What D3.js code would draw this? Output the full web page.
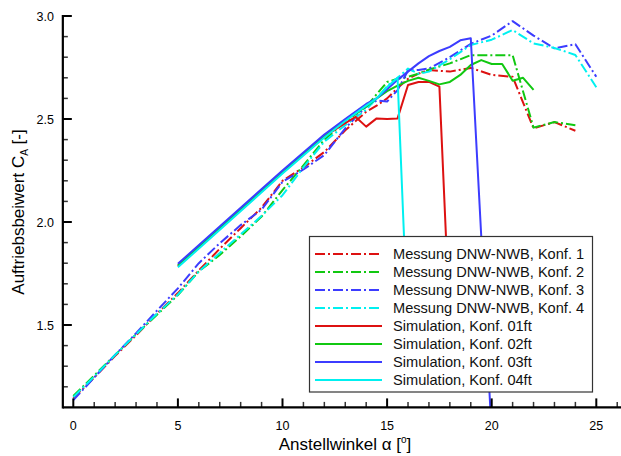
<!DOCTYPE html>
<html><head><meta charset="utf-8">
<script src="https://cdn.jsdelivr.net/npm/d3@7"></script>
<style>body{margin:0;background:#fff}svg{display:block}text{font-family:"Liberation Sans",Arial,sans-serif}</style>
</head><body>
<svg id="c" width="621" height="456"></svg>
<script>
// Measured (Messung DNW-NWB) angles and values
const alphaMeas = [0,1,2,3,4,5,6,7,8,9,10,11,12,13,14,14.5,15,15.5,16,16.5,17,18,19,20,21,22,23,24,25];
const mess1 = [1.145,1.245,1.35,1.45,1.555,1.655,1.765,1.87,1.97,2.07,2.20,2.265,2.34,2.445,2.535,2.565,2.60,2.65,2.695,2.72,2.738,2.73,2.748,2.714,2.705,2.455,2.485,2.443,null];
const mess2 = [1.155,1.255,1.355,1.455,1.55,1.645,1.76,1.84,1.93,2.026,2.155,2.275,2.40,2.487,2.56,2.62,2.68,2.695,2.705,2.72,2.74,2.77,2.81,2.81,2.81,2.458,2.485,2.47,null];
const mess3 = [1.135,1.245,1.355,1.46,1.57,1.678,1.80,1.897,1.985,2.06,2.195,2.255,2.325,2.455,2.56,2.59,2.585,2.64,2.735,2.738,2.745,2.80,2.865,2.905,2.975,2.905,2.843,2.863,2.705];
const mess4 = [1.15,1.25,1.355,1.455,1.555,1.648,1.76,1.85,1.94,2.03,2.13,2.265,2.39,2.47,2.545,2.60,2.66,2.70,2.745,2.72,2.73,2.79,2.859,2.885,2.932,2.867,2.845,2.811,2.654];

// Simulation series
const alphaSim1 = [5,10,12,13,13.5,14,14.5,15,15.5,16,16.5,17,17.5,18];
const sim1 = [1.785,2.24,2.415,2.48,2.51,2.463,2.503,2.50,2.503,2.665,2.68,2.68,2.657,1.5];
const alphaSim2 = [5,10,12,13,14,14.5,15,15.5,16,16.5,17,17.5,18,18.5,19,19.5,20,20.5,21,21.5,22];
const sim2 = [1.79,2.24,2.42,2.495,2.56,2.60,2.635,2.662,2.685,2.70,2.685,2.668,2.68,2.714,2.762,2.786,2.767,2.767,2.686,2.70,2.641];
const alphaSim3 = [5,10,12,13,14,14.5,15,15.5,16,16.5,17,17.5,18,18.5,19,20];
const sim3 = [1.797,2.25,2.425,2.50,2.573,2.60,2.645,2.69,2.73,2.77,2.805,2.83,2.85,2.882,2.892,0.97];
const alphaSim4 = [5,10,12,13,14,14.5,15,15.5,16];
const sim4 = [1.78,2.235,2.41,2.49,2.565,2.60,2.655,2.70,1.45];

const xTicksMajor = [0,5,10,15,20,25];
const yTicksMajor = [1.5,2.0,2.5,3.0];
const legendLabels = ["Messung DNW-NWB, Konf. 1","Messung DNW-NWB, Konf. 2","Messung DNW-NWB, Konf. 3","Messung DNW-NWB, Konf. 4",
  "Simulation, Konf. 01ft","Simulation, Konf. 02ft","Simulation, Konf. 03ft","Simulation, Konf. 04ft"];

const colors = ["#dd1111","#11c811","#3c3cff","#00f0f0"];
const series = [
  {x:alphaMeas,y:mess1,c:colors[0],dash:true},
  {x:alphaMeas,y:mess2,c:colors[1],dash:true},
  {x:alphaMeas,y:mess3,c:colors[2],dash:true},
  {x:alphaMeas,y:mess4,c:colors[3],dash:true},
  {x:alphaSim1,y:sim1,c:colors[0],dash:false},
  {x:alphaSim2,y:sim2,c:colors[1],dash:false},
  {x:alphaSim3,y:sim3,c:colors[2],dash:false},
  {x:alphaSim4,y:sim4,c:colors[3],dash:false}
];
const DASH = "10,3,2,3";

const svg = d3.select("#c");
const x = d3.scaleLinear().domain([0,25]).range([73.3,596.3]);
const y = d3.scaleLinear().domain([1.1,3.0]).range([407.4,16]);
const xL = x(-0.5), xR = 621, yB = y(1.1), yT = y(3.0);

svg.append("defs").append("clipPath").attr("id","clip")
  .append("rect").attr("x",xL).attr("y",0).attr("width",xR-xL).attr("height",yB);

const g = svg.append("g").attr("clip-path","url(#clip)");
const line = d3.line().defined(d=>d[1]!=null).x(d=>x(d[0])).y(d=>y(d[1]));
// draw measured first, then simulation
series.forEach(s=>{
  const pts = s.x.map((v,i)=>[v,s.y[i]]);
  g.append("path").attr("d",line(pts)).attr("fill","none").attr("stroke",s.c)
   .attr("stroke-width",2).attr("stroke-dasharray",s.dash?DASH:null).attr("stroke-linejoin","round");
});

// axes
const ax = svg.append("g");
// minor ticks
const xMinor = d3.range(0,27,1).filter(v=>v%5!==0);
const yMinor = d3.range(12,30,1).map(v=>v/10).filter(v=>Math.round(v*10)%5!==0);
xMinor.forEach(v=>ax.append("line").attr("x1",x(v)).attr("x2",x(v)).attr("y1",yB).attr("y2",yB-5.5).attr("stroke","#333").attr("stroke-width",1.5));
xTicksMajor.forEach(v=>ax.append("line").attr("x1",x(v)).attr("x2",x(v)).attr("y1",yB).attr("y2",yB-9).attr("stroke","#000").attr("stroke-width",2));
yMinor.forEach(v=>ax.append("line").attr("x1",xL).attr("x2",xL+5).attr("y1",y(v)).attr("y2",y(v)).attr("stroke","#333").attr("stroke-width",1.5));
yTicksMajor.forEach(v=>ax.append("line").attr("x1",xL).attr("x2",xL+9).attr("y1",y(v)).attr("y2",y(v)).attr("stroke","#000").attr("stroke-width",2));
ax.append("line").attr("x1",xL).attr("x2",xR).attr("y1",yB).attr("y2",yB).attr("stroke","#000").attr("stroke-width",2.2);
ax.append("line").attr("x1",xL).attr("x2",xL).attr("y1",yT-1).attr("y2",yB+1).attr("stroke","#000").attr("stroke-width",2.2);

xTicksMajor.forEach(v=>ax.append("text").attr("x",x(v)).attr("y",429.5).attr("text-anchor","middle").attr("font-size",12.5).text(v));
yTicksMajor.forEach(v=>ax.append("text").attr("x",54).attr("y",y(v)+4.5).attr("text-anchor","end").attr("font-size",12.5).text(v.toFixed(1)));

// axis titles
const xt = svg.append("text").attr("x",345).attr("y",450).attr("text-anchor","middle").attr("font-size",17);
xt.append("tspan").text("Anstellwinkel α [");
xt.append("tspan").attr("font-size",10).attr("dy",-7).text("o");
xt.append("tspan").attr("dy",7).text("]");
const yt = svg.append("text").attr("transform","translate(24,212) rotate(-90)").attr("text-anchor","middle").attr("font-size",17);
yt.append("tspan").text("Auftriebsbeiwert C");
yt.append("tspan").attr("font-size",10).attr("dy",4).text("A");
yt.append("tspan").attr("dy",-4).text(" [-]");

// legend
const lg = svg.append("g");
lg.append("rect").attr("x",309.5).attr("y",236.5).attr("width",283).attr("height",155.5).attr("fill","#fff").attr("stroke","#333").attr("stroke-width",1.2);
legendLabels.forEach((t,i)=>{
  const yy = 254 + i*18.0;
  const s = series[i];
  lg.append("line").attr("x1",315).attr("x2",382).attr("y1",yy).attr("y2",yy).attr("stroke",s.c).attr("stroke-width",2).attr("stroke-dasharray",s.dash?DASH:null);
  lg.append("text").attr("x",393).attr("y",yy+5.2).attr("font-size",14.6).attr("fill","#111").text(t);
});
</script>
</body></html>
